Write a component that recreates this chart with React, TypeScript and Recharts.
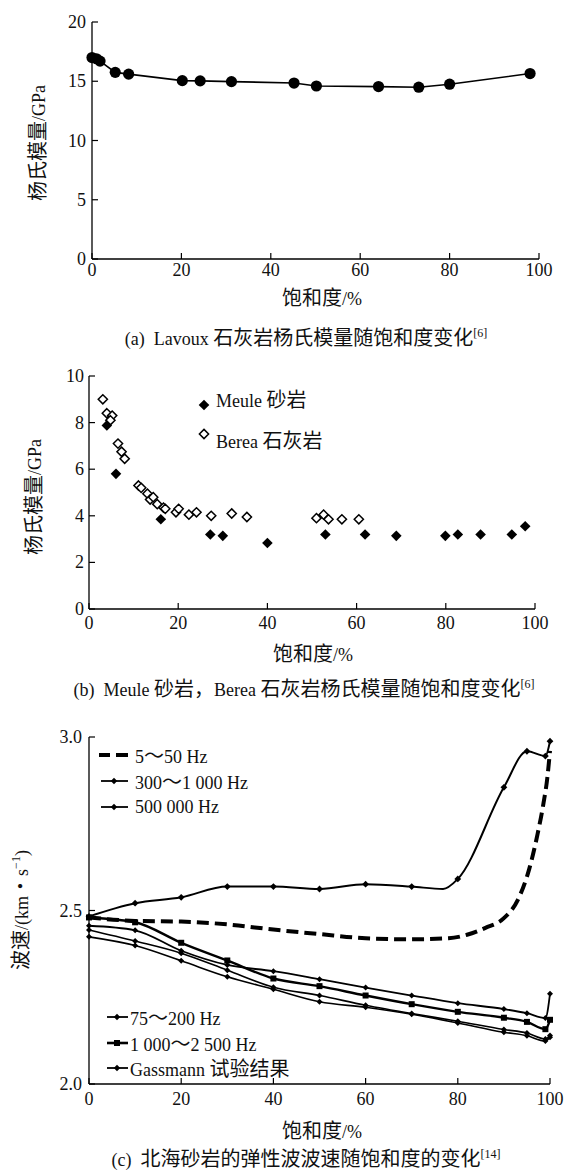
import React from 'react';
import { LineChart, Line, XAxis, YAxis, ScatterChart, Scatter } from 'recharts';

const SERIF = "'Liberation Serif', 'DejaVu Serif', serif";
const CJKF = "'Noto Sans CJK SC', 'Liberation Serif', serif";

// ---------- Panel (a): Lavoux limestone ----------
const A_SAT = [0, 1.0, 1.8, 5.2, 8.2, 20.2, 24.2, 31.2, 45.2, 50.2, 64.1, 73.1, 80, 98];
const A_E = [17.0, 16.9, 16.7, 15.75, 15.6, 15.05, 15.03, 14.97, 14.85, 14.6, 14.55, 14.5, 14.75, 15.65];
const X_TICKS = [0, 20, 40, 60, 80, 100];
const A_Y_TICKS = [0, 5, 10, 15, 20];

// ---------- Panel (b): Meule sandstone / Berea limestone ----------
const MEULE_SAT = [4.0, 6.05, 16.1, 27.2, 30.0, 40.0, 53.0, 61.9, 68.9, 79.9, 82.7, 87.8, 94.8, 97.8];
const MEULE_E = [7.88, 5.8, 3.85, 3.2, 3.14, 2.83, 3.2, 3.2, 3.14, 3.14, 3.2, 3.2, 3.2, 3.55];
const BEREA_SAT = [3.1, 4.0, 5.2, 4.8, 6.5, 7.3, 8.0, 11.1, 11.7, 13.1, 13.7, 14.4, 15.3, 16.7, 17.1, 19.5, 20.1, 22.4, 24.1, 27.4, 32.0, 35.4, 51.0, 52.6, 53.7, 56.7, 60.5];
const BEREA_E = [9.0, 8.4, 8.3, 8.1, 7.1, 6.75, 6.45, 5.3, 5.2, 4.95, 4.7, 4.8, 4.5, 4.35, 4.3, 4.15, 4.3, 4.05, 4.15, 4.0, 4.1, 3.95, 3.9, 4.05, 3.85, 3.85, 3.85];
const B_Y_TICKS = [0, 2, 4, 6, 8, 10];

// ---------- Panel (c): North Sea sandstone wave velocity ----------
const C_Y_TICKS = [2.0, 2.5, 3.0];
const HZ5_SAT = [0, 10, 20, 30, 40, 50, 60, 70, 78, 82, 86, 90, 93, 95.5, 97.3, 98.6, 99.4, 100];
const HZ5_V = [2.48, 2.47, 2.468, 2.46, 2.445, 2.432, 2.42, 2.417, 2.42, 2.43, 2.45, 2.478, 2.53, 2.62, 2.72, 2.81, 2.88, 2.96];
const HZ500K_SAT = [0, 10, 20, 30, 40, 50, 60, 70, 76.8, 80, 90, 95, 99, 100];
const HZ500K_V = [2.483, 2.521, 2.538, 2.569, 2.569, 2.562, 2.576, 2.569, 2.562, 2.591, 2.855, 2.959, 2.945, 2.988];
const LOW_SAT = [0, 10, 20, 30, 40, 50, 60, 70, 80, 90, 95, 99, 100];
const HZ75_V = [2.456, 2.443, 2.384, 2.343, 2.325, 2.302, 2.278, 2.255, 2.233, 2.216, 2.204, 2.19, 2.26];
const HZ1000_V = [2.48, 2.466, 2.407, 2.356, 2.304, 2.282, 2.255, 2.23, 2.208, 2.191, 2.179, 2.158, 2.185];
const HZ300_V = [2.444, 2.412, 2.377, 2.328, 2.279, 2.255, 2.227, 2.203, 2.181, 2.157, 2.147, 2.13, 2.14];
const GASS_V = [2.424, 2.399, 2.355, 2.309, 2.273, 2.237, 2.221, 2.201, 2.176, 2.149, 2.139, 2.124, 2.135];
const MARK_SAT = [0, 10, 20, 30, 40, 50, 60, 70, 80, 90, 95, 99, 100];

const zip = (xs: number[], ys: number[], k = 'v') => xs.map((s, i) => ({ s, [k]: ys[i] }));

const aData = zip(A_SAT, A_E, 'e');
const meuleData = zip(MEULE_SAT, MEULE_E, 'e');
const bereaData = zip(BEREA_SAT, BEREA_E, 'e');
const hz5Data = zip(HZ5_SAT, HZ5_V);
const hz500kData = zip(HZ500K_SAT, HZ500K_V);
const hz75Data = zip(LOW_SAT, HZ75_V);
const hz1000Data = zip(LOW_SAT, HZ1000_V);
const hz300Data = zip(LOW_SAT, HZ300_V);
const gassData = zip(LOW_SAT, GASS_V);

const isCJK = (ch: string) => /[\u2E80-\u9FFF\uFF00-\uFFEF\u3000-\u303F\u30FB]/.test(ch);
function Mixed({ text, size = 18, cjk = 20 }: { text: string; size?: number; cjk?: number }) {
  const runs: { c: boolean; t: string }[] = [];
  for (const ch of text) {
    const c = isCJK(ch);
    if (runs.length && runs[runs.length - 1].c === c) runs[runs.length - 1].t += ch;
    else runs.push({ c, t: ch });
  }
  return (
    <>
      {runs.map((r, i) => (
        <span key={i} style={{ fontFamily: r.c ? CJKF : SERIF, fontSize: r.c ? cjk : size }}>{r.t}</span>
      ))}
    </>
  );
}

const tickTextStyle = { fontFamily: SERIF, fontSize: 18 };

const XTick = (p: any, dy: number) => (
  <g>
    <line x1={p.x} x2={p.x} y1={p.y} y2={p.y - 6} stroke="#000" strokeWidth={1.2} />
    <text x={p.x} y={p.y + dy} textAnchor="middle" dominantBaseline="central" style={tickTextStyle} fill="#111">
      {p.payload.value}
    </text>
  </g>
);
const YTick = (p: any, gap: number, fmt?: (v: number) => string) => (
  <g>
    <line x1={p.x} x2={p.x + 6} y1={p.y} y2={p.y} stroke="#000" strokeWidth={1.2} />
    <text x={p.x - gap} y={p.y} textAnchor="end" dominantBaseline="central" style={tickTextStyle} fill="#111">
      {fmt ? fmt(p.payload.value) : p.payload.value}
    </text>
  </g>
);

const diamond = (cx: number, cy: number, r: number) => `M${cx},${cy - r}L${cx + r},${cy}L${cx},${cy + r}L${cx - r},${cy}Z`;

const markDot = (square: boolean, size: number) => (p: any) => {
  const show = MARK_SAT.includes(p.payload.s);
  if (!show) return <g key={p.index} />;
  if (square)
    return <rect key={p.index} x={p.cx - size} y={p.cy - size} width={size * 2} height={size * 2} fill="#000" />;
  return <path key={p.index} d={diamond(p.cx, p.cy, size)} fill="#000" />;
};

const abs = (left: number, top: number, extra: any = {}) => ({ position: 'absolute' as const, left, top, whiteSpace: 'pre' as const, lineHeight: '20px', color: '#111', ...extra });

function Caption({ cx, cy, text, sup }: { cx: number; cy: number; text: string; sup: string }) {
  return (
    <div style={abs(cx, cy - 10, { transform: 'translateX(-50%)' })}>
      <Mixed text={text} />
      <span style={{ fontFamily: SERIF, fontSize: 12, verticalAlign: 'top', lineHeight: '12px' }}>{sup}</span>
    </div>
  );
}
function XLabel({ cx, cy }: { cx: number; cy: number }) {
  return (
    <div style={abs(cx, cy - 10, { transform: 'translateX(-50%)' })}>
      <Mixed text="饱和度/%" />
    </div>
  );
}
function YLabel({ cx, cy, children }: { cx: number; cy: number; children: any }) {
  return <div style={abs(cx, cy, { transform: 'translate(-50%,-50%) rotate(-90deg)' })}>{children}</div>;
}

const axisStyle = { stroke: '#000', strokeWidth: 1.3 };

export default function App() {
  return (
    <div style={{ position: 'absolute', left: 0, top: 0, width: 564, height: 1173, background: '#fff', overflow: 'hidden' }}>
      {/* Panel (a) */}
      <div style={{ position: 'absolute', left: 0, top: 0 }}>
        <LineChart width={564} height={290} margin={{ top: 22, right: 25, bottom: 1, left: 42 }} data={aData}>
          <XAxis type="number" dataKey="s" domain={[0, 100]} ticks={X_TICKS} interval={0} height={30} tickSize={0} tickMargin={0} tickLine={false} axisLine={axisStyle} tick={(p: any) => XTick(p, 11)} />
          <YAxis type="number" domain={[0, 20]} ticks={A_Y_TICKS} interval={0} width={50} tickSize={0} tickMargin={0} tickLine={false} axisLine={axisStyle} tick={(p: any) => YTick(p, 6)} />
          <Line dataKey="e" type="linear" stroke="#000" strokeWidth={1.6} isAnimationActive={false}
            dot={(p: any) => <circle key={p.index} cx={p.cx} cy={p.cy} r={5.6} fill="#000" />} />
        </LineChart>
      </div>
      <YLabel cx={38} cy={143}><Mixed text="杨氏模量/GPa" /></YLabel>
      <XLabel cx={322} cy={297} />
      <Caption cx={306} cy={337} text="(a)  Lavoux 石灰岩杨氏模量随饱和度变化" sup="[6]" />

      {/* Panel (b) */}
      <div style={{ position: 'absolute', left: 0, top: 350 }}>
        <ScatterChart width={564} height={290} margin={{ top: 26, right: 29, bottom: 1, left: 39 }}>
          <XAxis type="number" dataKey="s" domain={[0, 100]} ticks={X_TICKS} interval={0} height={30} tickSize={0} tickMargin={0} tickLine={false} axisLine={axisStyle} tick={(p: any) => XTick(p, 14)} />
          <YAxis type="number" dataKey="e" domain={[0, 10]} ticks={B_Y_TICKS} interval={0} width={50} tickSize={0} tickMargin={0} tickLine={false} axisLine={axisStyle} tick={(p: any) => YTick(p, 5)} />
          <Scatter data={bereaData} isAnimationActive={false}
            shape={(p: any) => <path d={diamond(p.cx, p.cy, 4.6)} fill="#fff" stroke="#000" strokeWidth={1.5} />} />
          <Scatter data={meuleData} isAnimationActive={false}
            shape={(p: any) => <path d={diamond(p.cx, p.cy, 5.3)} fill="#000" />} />
        </ScatterChart>
      </div>
      <svg width={564} height={1173} style={{ position: 'absolute', left: 0, top: 0, pointerEvents: 'none' }}>
        {/* legend (b) */}
        <path d={diamond(204, 405, 5.3)} fill="#000" />
        <path d={diamond(204, 434, 4.6)} fill="#fff" stroke="#000" strokeWidth={1.5} />
        {/* legend (c) top */}
        <line x1={99} x2={110} y1={755} y2={755} stroke="#000" strokeWidth={4} />
        <line x1={116} x2={128} y1={755} y2={755} stroke="#000" strokeWidth={4} />
        <line x1={101} x2={128} y1={781} y2={781} stroke="#000" strokeWidth={1.8} />
        <path d={diamond(114, 781, 3.2)} fill="#000" />
        <line x1={101} x2={128} y1={807} y2={807} stroke="#000" strokeWidth={1.8} />
        <path d={diamond(114, 807, 3.2)} fill="#000" />
        {/* legend (c) bottom */}
        <line x1={107} x2={128} y1={1017} y2={1017} stroke="#000" strokeWidth={1.8} />
        <path d={diamond(117, 1017, 3.2)} fill="#000" />
        <line x1={107} x2={128} y1={1043} y2={1043} stroke="#000" strokeWidth={2.6} />
        <rect x={114} y={1040} width={6} height={6} fill="#000" />
        <line x1={107} x2={128} y1={1068} y2={1068} stroke="#000" strokeWidth={1.8} />
        <path d={diamond(117, 1068, 3.2)} fill="#000" />
      </svg>
      <div style={abs(216, 399 - 10)}><Mixed text="Meule 砂岩" /></div>
      <div style={abs(216, 440 - 10)}><Mixed text="Berea 石灰岩" /></div>
      <YLabel cx={34} cy={497}><Mixed text="杨氏模量/GPa" /></YLabel>
      <XLabel cx={313} cy={653} />
      <Caption cx={304} cy={688} text="(b)  Meule 砂岩，Berea 石灰岩杨氏模量随饱和度变化" sup="[6]" />

      {/* Panel (c) */}
      <div style={{ position: 'absolute', left: 0, top: 700 }}>
        <LineChart width={564} height={415} margin={{ top: 37, right: 14, bottom: 1, left: 39 }}>
          <XAxis type="number" dataKey="s" domain={[0, 100]} ticks={X_TICKS} interval={0} height={30} tickSize={0} tickMargin={0} tickLine={false} axisLine={axisStyle} tick={(p: any) => XTick(p, 15)} allowDuplicatedCategory={false} />
          <YAxis type="number" domain={[2, 3]} ticks={C_Y_TICKS} interval={0} width={50} tickSize={0} tickMargin={0} tickLine={false} axisLine={axisStyle} tick={(p: any) => YTick(p, 7, (v) => v.toFixed(1))} />
          <Line data={gassData} dataKey="v" type="monotone" stroke="#000" strokeWidth={1.6} dot={markDot(false, 3)} isAnimationActive={false} />
          <Line data={hz300Data} dataKey="v" type="monotone" stroke="#000" strokeWidth={1.6} dot={markDot(false, 3)} isAnimationActive={false} />
          <Line data={hz1000Data} dataKey="v" type="monotone" stroke="#000" strokeWidth={2.4} dot={markDot(true, 3)} isAnimationActive={false} />
          <Line data={hz75Data} dataKey="v" type="monotone" stroke="#000" strokeWidth={1.8} dot={markDot(false, 3)} isAnimationActive={false} />
          <Line data={hz5Data} dataKey="v" type="monotone" stroke="#000" strokeWidth={4} strokeDasharray="12 6" dot={false} isAnimationActive={false} />
          <Line data={hz500kData} dataKey="v" type="monotone" stroke="#000" strokeWidth={2} dot={markDot(false, 3.4)} isAnimationActive={false} />
        </LineChart>
      </div>
      <div style={abs(135, 755 - 10)}><Mixed text="5～50 Hz" /></div>
      <div style={abs(135, 781 - 10)}><Mixed text="300～1 000 Hz" /></div>
      <div style={abs(135, 807 - 10)}><Mixed text="500 000 Hz" /></div>
      <div style={abs(130, 1017 - 10)}><Mixed text="75～200 Hz" /></div>
      <div style={abs(130, 1043 - 10)}><Mixed text="1 000～2 500 Hz" /></div>
      <div style={abs(130, 1068 - 10)}><Mixed text="Gassmann 试验结果" /></div>
      <YLabel cx={21} cy={910}>
        <Mixed text="波速/(km・s" />
        <span style={{ fontFamily: SERIF, fontSize: 12, verticalAlign: 'top', lineHeight: '12px' }}>−1</span>
        <span style={{ fontFamily: SERIF, fontSize: 18 }}>)</span>
      </YLabel>
      <XLabel cx={322} cy={1130} />
      <Caption cx={306} cy={1158} text="(c)  北海砂岩的弹性波波速随饱和度的变化" sup="[14]" />
    </div>
  );
}
